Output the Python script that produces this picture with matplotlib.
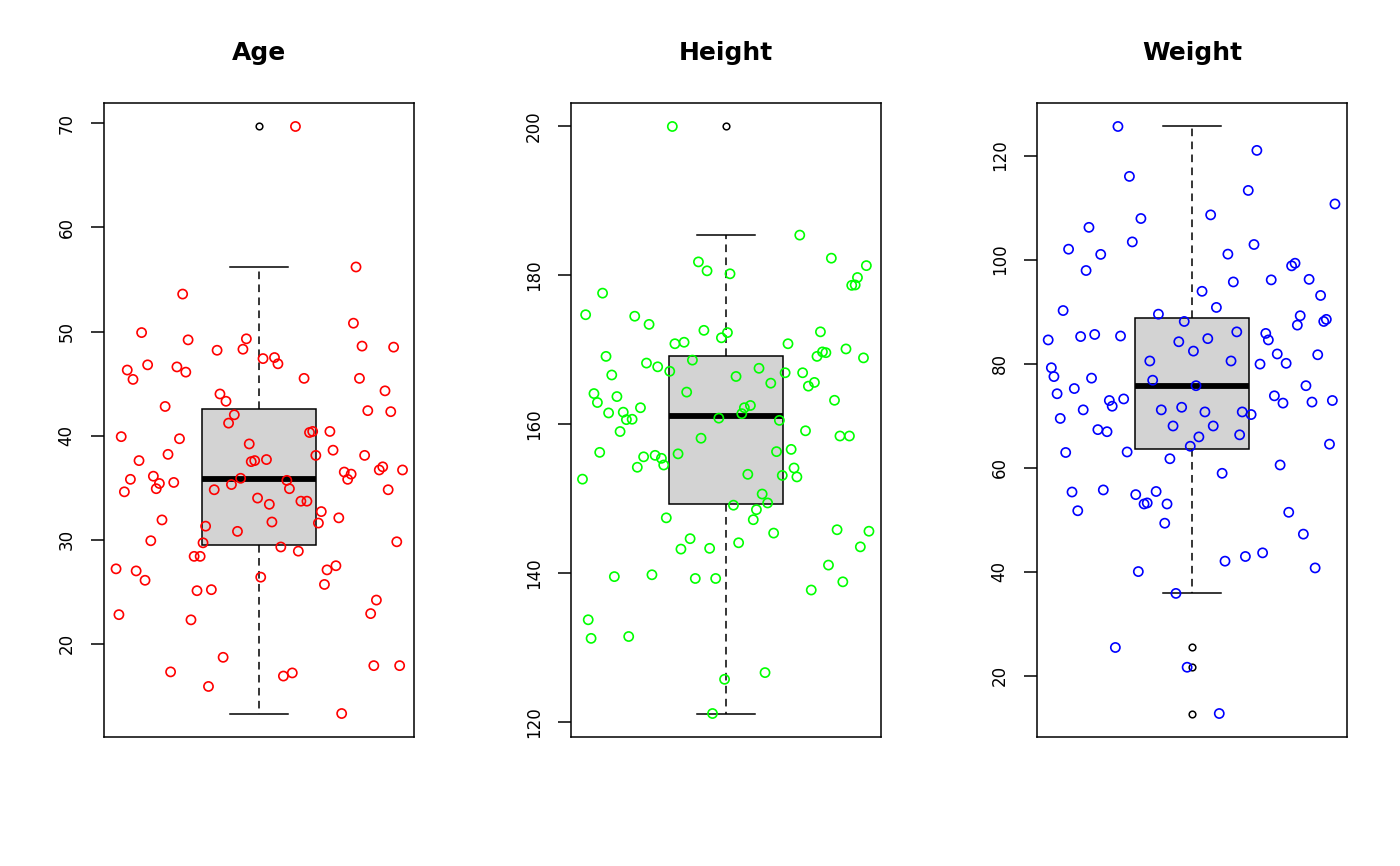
import matplotlib
matplotlib.use("Agg")
import matplotlib.pyplot as plt
import numpy as np

# jittered x position and value of every point
age_x = [1.127, 1.338, 0.734, 1.329, 0.591, 0.753, 0.956, 0.854, 0.944, 1.359,
         1.469, 0.541, 0.612, 0.561, 0.714, 0.745, 1.014, 1.054, 1.066, 1.157,
         1.350, 1.439, 0.864, 0.885, 0.673, 1.379, 1.459, 0.914, 0.894, 0.520,
         0.723, 1.176, 1.187, 1.247, 0.966, 0.683, 0.582, 0.973, 0.985, 1.026,
         1.198, 1.258, 1.368, 1.297, 1.321, 1.309, 1.419, 1.431, 1.500, 0.632,
         0.552, 0.653, 0.642, 0.703, 0.531, 0.936, 0.904, 0.844, 1.097, 1.106,
         1.450, 0.995, 1.036, 1.146, 1.167, 1.217, 1.278, 0.662, 1.045, 1.207,
         0.814, 0.925, 0.623, 0.805, 1.480, 1.076, 1.137, 0.774, 0.795, 0.502,
         0.572, 0.603, 1.006, 1.237, 1.268, 1.228, 0.784, 0.834, 1.409, 1.389,
         0.512, 0.763, 0.875, 0.692, 0.824, 1.085, 1.116, 1.400, 1.490, 1.288]
age = [69.7, 56.2, 53.6, 50.8, 49.9, 49.2, 49.3, 48.2, 48.3, 48.6,
       48.5, 46.3, 46.8, 45.4, 46.6, 46.1, 47.4, 47.5, 46.9, 45.5,
       45.5, 44.3, 44.0, 43.3, 42.8, 42.4, 42.3, 42.0, 41.2, 39.9,
       39.7, 40.3, 40.4, 40.4, 39.2, 38.2, 37.6, 37.5, 37.6, 37.7,
       38.1, 38.6, 38.1, 36.5, 36.3, 35.8, 36.7, 37.0, 36.7, 36.1,
       35.8, 35.4, 34.9, 35.5, 34.6, 35.9, 35.3, 34.8, 35.7, 34.9,
       34.8, 34.0, 33.4, 33.7, 33.7, 32.7, 32.1, 31.9, 31.7, 31.6,
       31.3, 30.8, 29.9, 29.7, 29.8, 29.3, 28.9, 28.4, 28.4, 27.2,
       27.0, 26.1, 26.4, 27.1, 27.5, 25.7, 25.1, 25.2, 24.2, 22.9,
       22.8, 22.3, 18.7, 17.3, 15.9, 16.9, 17.2, 17.9, 17.9, 13.3]

height_x = [0.813, 1.257, 0.904, 0.934, 1.014, 1.367, 1.489, 1.458, 1.438, 1.450,
            0.570, 0.511, 0.682, 0.732, 0.923, 0.984, 1.005, 0.822, 0.854, 1.329,
            1.216, 1.418, 1.479, 1.336, 1.348, 1.317, 0.582, 0.723, 0.762, 0.883,
            0.804, 0.602, 1.115, 1.035, 1.206, 1.156, 1.267, 1.308, 1.287, 0.540,
            0.552, 0.620, 0.863, 1.378, 0.591, 0.642, 0.653, 0.673, 0.702, 0.631,
            1.064, 1.085, 1.055, 0.975, 1.186, 1.277, 0.913, 1.397, 1.430, 0.560,
            0.713, 0.753, 0.775, 0.783, 0.691, 0.833, 1.176, 1.227, 1.237, 1.247,
            1.196, 1.076, 0.500, 1.126, 1.145, 1.026, 1.106, 1.095, 0.792, 1.166,
            1.387, 1.498, 1.468, 0.875, 0.843, 0.943, 1.044, 1.357, 1.407, 1.297,
            0.611, 0.742, 0.893, 0.964, 0.520, 0.530, 0.661, 0.995, 1.136, 0.953]
height = [200.0, 185.4, 181.8, 180.6, 180.2, 182.3, 181.3, 179.7, 178.65, 178.7,
          177.6, 174.7, 174.5, 173.4, 172.6, 171.6, 172.3, 170.8, 171.0, 172.4,
          170.8, 170.1, 168.9, 169.7, 169.6, 169.1, 169.1, 168.2, 167.7, 168.6,
          167.1, 166.6, 167.5, 166.4, 166.9, 165.5, 166.9, 165.6, 165.1, 164.1,
          162.9, 163.7, 164.3, 163.2, 161.5, 161.6, 160.6, 160.65, 162.2, 159.0,
          162.2, 162.5, 161.4, 160.8, 160.5, 159.1, 158.1, 158.4, 158.4, 156.2,
          155.6, 155.8, 155.4, 154.5, 154.2, 156.0, 156.3, 156.6, 154.1, 152.9,
          153.1, 153.25, 152.6, 150.6, 149.4, 149.1, 148.5, 147.15, 147.4, 145.35,
          145.8, 145.6, 143.5, 144.6, 143.2, 143.3, 144.05, 141.05, 138.8, 137.7,
          139.5, 139.75, 139.25, 139.25, 133.7, 131.2, 131.45, 125.7, 126.6, 121.1]

weight_x = [0.742, 1.226, 0.782, 1.196, 1.498, 1.065, 0.822, 0.641, 0.570, 0.792,
            0.682, 1.216, 1.125, 0.631, 1.347, 1.359, 1.144, 1.276, 1.408, 1.035,
            1.448, 1.085, 0.551, 1.377, 0.883, 0.973, 1.468, 1.459, 1.367, 0.499,
            0.612, 0.661, 0.751, 0.954, 1.055, 1.156, 1.005, 1.257, 1.266, 1.297,
            1.328, 1.438, 1.237, 1.136, 0.853, 0.510, 0.519, 0.650, 0.863, 1.014,
            0.590, 0.530, 1.397, 1.287, 1.317, 1.418, 1.489, 0.712, 0.722, 0.762,
            0.621, 0.541, 0.893, 0.964, 1.045, 1.175, 1.206, 0.934, 1.074, 0.672,
            0.704, 1.166, 1.024, 0.994, 1.479, 0.560, 0.774, 0.923, 1.307, 1.105,
            0.582, 0.691, 0.804, 0.875, 0.833, 0.844, 0.913, 0.602, 1.337, 0.905,
            1.388, 1.115, 1.186, 1.246, 1.429, 0.813, 0.944, 0.733, 0.983, 1.095]
weight = [125.6, 121.0, 116.0, 113.3, 110.7, 108.6, 107.9, 106.2, 102.0, 103.4,
          101.0, 102.9, 101.05, 97.9, 98.8, 99.3, 95.7, 96.1, 96.2, 93.9,
          93.1, 90.8, 90.2, 89.2, 89.5, 88.1, 88.5, 88.1, 87.4, 84.55,
          85.2, 85.6, 85.3, 84.2, 84.8, 86.1, 82.4, 85.8, 84.55, 81.85,
          80.05, 81.7, 79.9, 80.5, 80.5, 79.2, 77.5, 77.2, 76.8, 75.75,
          75.2, 74.2, 75.75, 73.8, 72.4, 72.6, 72.9, 72.9, 71.8, 73.2,
          71.1, 69.45, 71.1, 71.6, 70.7, 70.7, 70.2, 68.0, 68.0, 67.3,
          66.9, 66.3, 65.9, 64.1, 64.5, 62.9, 63.0, 61.7, 60.5, 58.9,
          55.3, 55.7, 54.8, 55.4, 53.0, 53.2, 53.0, 51.7, 51.4, 49.3,
          47.2, 42.0, 42.9, 43.6, 40.7, 40.0, 35.8, 25.4, 21.6, 12.7]

titles = ["Age", "Height", "Weight"]
colors = ["#FF0000", "#00FF00", "#0000FF"]
yticks = [[20, 30, 40, 50, 60, 70],
          [120, 140, 160, 180, 200],
          [20, 40, 60, 80, 100, 120]]


def r_boxstats(v):
    # tukey hinges like R's boxplot.stats
    v = np.sort(np.asarray(v, dtype=float))
    n = len(v)
    n4 = np.floor((n + 3) / 2) / 2
    d = np.array([1, n4, (n + 1) / 2, n + 1 - n4, n])
    fn = 0.5 * (v[np.floor(d).astype(int) - 1] + v[np.ceil(d).astype(int) - 1])
    q1, med, q3 = fn[1], fn[2], fn[3]
    iqr = q3 - q1
    inside = v[(v >= q1 - 1.5 * iqr) & (v <= q3 + 1.5 * iqr)]
    fliers = v[(v < q1 - 1.5 * iqr) | (v > q3 + 1.5 * iqr)]
    return dict(med=med, q1=q1, q3=q3, whislo=inside.min(), whishi=inside.max(),
                fliers=fliers)


fig = plt.figure(figsize=(14, 8.66), dpi=100)
lefts = [104 / 1400, 571 / 1400, 1037 / 1400]
data = [(age_x, age), (height_x, height), (weight_x, weight)]

for i in range(3):
    ax = fig.add_axes([lefts[i], 129 / 866, 310 / 1400, 634 / 866])
    xs, ys = data[i]
    st = r_boxstats(ys)
    ax.bxp([st], positions=[1], widths=0.4, capwidths=0.2, patch_artist=True,
           boxprops=dict(facecolor="#D3D3D3", edgecolor="black", linewidth=1.1),
           medianprops=dict(color="black", linewidth=4.2, solid_capstyle="butt"),
           whiskerprops=dict(color="black", linewidth=1.1, linestyle=(0, (5, 3.5))),
           capprops=dict(color="black", linewidth=1.1),
           flierprops=dict(marker="o", markerfacecolor="none", markeredgecolor="black",
                           markersize=4.8, markeredgewidth=1.1),
           zorder=2)
    ax.scatter(xs, ys, s=6.6 ** 2, facecolors="none", edgecolors=colors[i],
               linewidths=1.2, zorder=3)
    lo, hi = min(ys), max(ys)
    r = hi - lo
    ax.set_ylim(lo - 0.04 * r, hi + 0.04 * r)
    ax.set_xlim(0.46, 1.54)
    ax.set_xticks([])
    ax.set_yticks(yticks[i])
    ax.tick_params(axis="y", labelrotation=90, length=9.4, width=1.1, pad=11,
                   labelsize=12)
    for lab in ax.get_yticklabels():
        lab.set_va("center")
    for sp in ax.spines.values():
        sp.set_linewidth(1.1)
    ax.set_title(titles[i], fontsize=18, fontweight="bold", pad=31)

fig.savefig("out.png", dpi=100)
